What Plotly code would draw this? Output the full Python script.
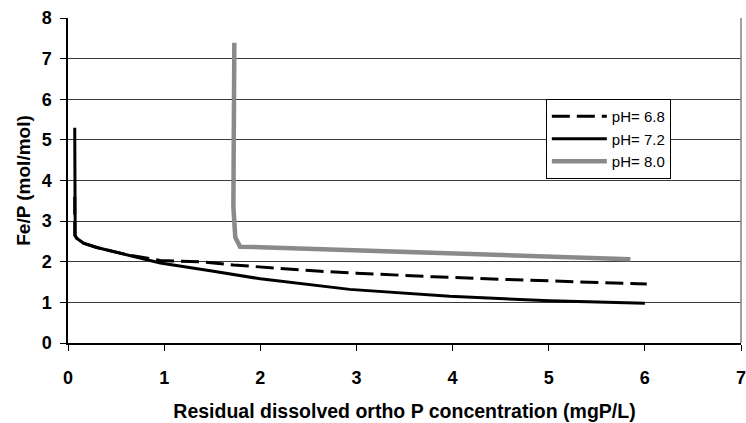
import plotly.graph_objects as go

# pH 6.8 (dashed)
ph68_x = [0.07, 0.07, 0.09, 0.16, 0.3, 0.6, 0.96, 1.37, 1.72, 2.0, 2.59, 3.0, 3.8, 4.5, 5.0, 5.5, 6.02]
ph68_y = [3.6, 2.65, 2.58, 2.46, 2.35, 2.18, 2.03, 2.0, 1.92, 1.87, 1.77, 1.72, 1.63, 1.57, 1.53, 1.49, 1.45]
# pH 7.2 (solid black)
ph72_x = [0.07, 0.07, 0.075, 0.09, 0.16, 0.3, 0.6, 0.96, 1.48, 2.0, 2.93, 3.97, 5.01, 6.0]
ph72_y = [5.3, 3.5, 2.65, 2.58, 2.46, 2.35, 2.17, 1.97, 1.78, 1.58, 1.32, 1.15, 1.04, 0.98]
# pH 8.0 (grey)
ph80_x = [1.73, 1.72, 1.72, 1.74, 1.79, 2.0, 3.0, 3.97, 5.0, 5.85]
ph80_y = [7.39, 5.0, 3.35, 2.6, 2.37, 2.36, 2.28, 2.2, 2.13, 2.06]

x_ticks = [0, 1, 2, 3, 4, 5, 6, 7]
y_ticks = [0, 1, 2, 3, 4, 5, 6, 7, 8]

FONT = "Liberation Sans, Arial, sans-serif"

fig = go.Figure()
fig.add_trace(go.Scatter(x=ph68_x, y=ph68_y, mode="lines", name="pH= 6.8",
                         line=dict(color="black", width=3, dash="18px,7px")))
fig.add_trace(go.Scatter(x=ph72_x, y=ph72_y, mode="lines", name="pH= 7.2",
                         line=dict(color="black", width=3)))
fig.add_trace(go.Scatter(x=ph80_x, y=ph80_y, mode="lines", name="pH= 8.0",
                         line=dict(color="#8a8a8a", width=4.5)))

fig.update_layout(
    width=746, height=423,
    margin=dict(l=68, r=5, t=18, b=80),
    paper_bgcolor="white", plot_bgcolor="white",
    font=dict(family=FONT, color="black"),
    xaxis=dict(
        range=[0, 7], tickvals=x_ticks, ticktext=[str(v) for v in x_ticks],
        showgrid=False, zeroline=False, showline=True, linecolor="black", linewidth=1.5,
        ticks="outside", ticklen=6, tickcolor="black", automargin=False,
        ticklabeloverflow="allow",
        tickfont=dict(size=18, family=FONT, weight="bold"), ticklabelstandoff=12,
        title=dict(text="<b>Residual dissolved ortho P concentration (mgP/L)</b>",
                   font=dict(size=19.5, family=FONT), standoff=17),
    ),
    xaxis2=dict(
        range=[0, 7], overlaying="x", anchor="y", tickvals=x_ticks,
        showticklabels=False, showgrid=False, zeroline=False, showline=False,
        ticks="inside", ticklen=6, tickcolor="black",
    ),
    yaxis=dict(
        range=[0, 8], tickvals=y_ticks, ticktext=[str(v) for v in y_ticks],
        showgrid=True, gridcolor="#3a3a3a", gridwidth=1,
        zeroline=False, showline=True, linecolor="black", linewidth=1.5,
        ticks="outside", ticklen=6, tickcolor="black", automargin=False,
        tickfont=dict(size=18, family=FONT, weight="bold"), ticklabelstandoff=5,
        title=dict(text="<b>Fe/P (mol/mol)</b>", font=dict(size=19, family=FONT), standoff=6),
    ),
    legend=dict(
        x=0.710, y=0.751, xanchor="left", yanchor="top",
        bgcolor="white", bordercolor="black", borderwidth=1,
        font=dict(size=15, family=FONT), itemwidth=55, tracegroupgap=0,
    ),
    shapes=[dict(type="line", xref="paper", yref="paper", x0=1, x1=1, y0=0, y1=1,
                 line=dict(color="#808080", width=1.5))],
)

fig.write_html("out.html", config={"displayModeBar": False},
               post_script="document.body.style.margin='0';document.body.style.overflow='hidden';")
